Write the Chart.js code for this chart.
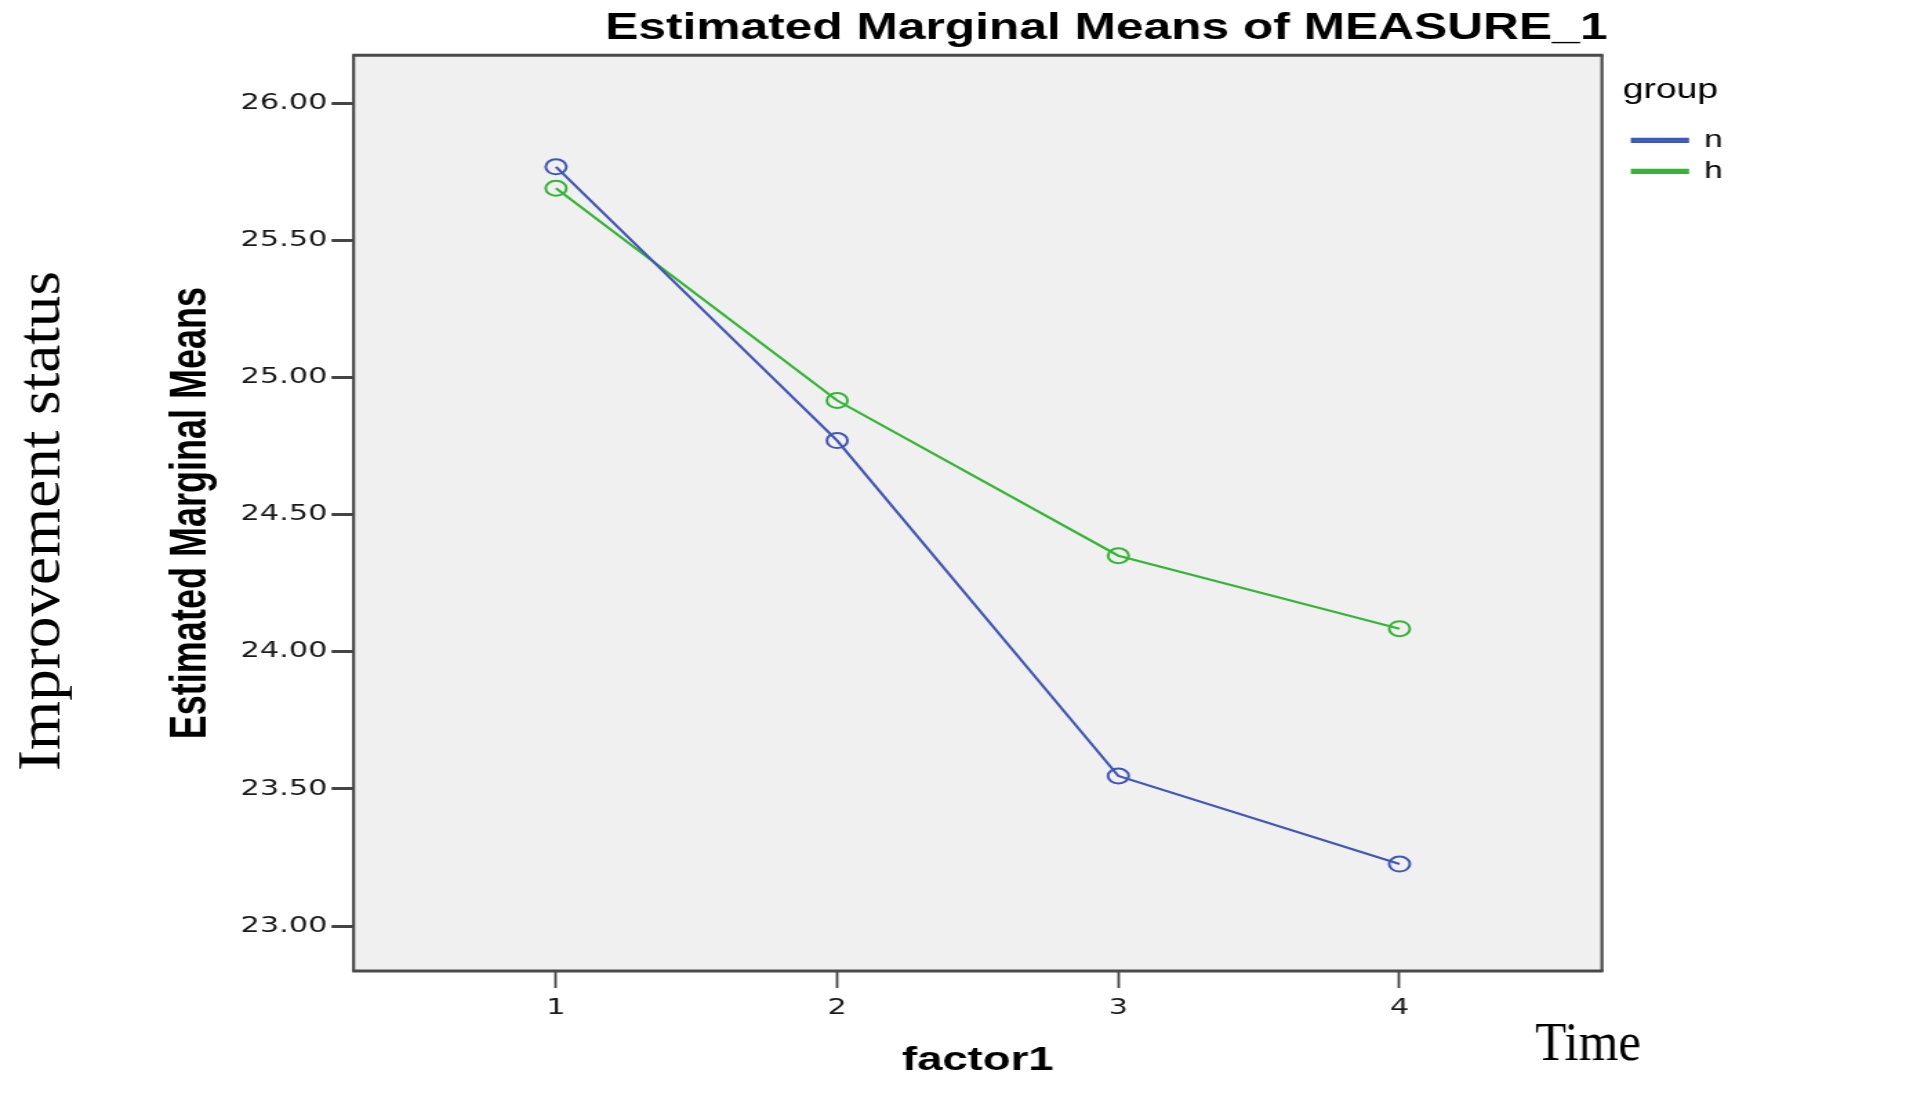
<!DOCTYPE html>
<html>
<head>
<meta charset="utf-8">
<title>Estimated Marginal Means of MEASURE_1</title>
<script src="https://cdn.jsdelivr.net/npm/chart.js@4.4.1/dist/chart.umd.min.js"></script>
<style>
  html, body { margin: 0; padding: 0; background: #fff; overflow: hidden; }
  /* the original SPSS picture is stretched sideways, so the canvas is too */
  #wrap { width: 1386px; height: 1113px; transform: scaleX(1.3802); transform-origin: 0 0; }
</style>
</head>
<body>
<div id="wrap"><canvas id="emmChart" width="1386" height="1113"></canvas></div>
<script>
// values
const factorLevels = [1, 2, 3, 4];
const groupN = [25.768, 24.770, 23.547, 23.226];
const groupH = [25.690, 24.916, 24.350, 24.084];
const yTicks = [23.0, 23.5, 24.0, 24.5, 25.0, 25.5, 26.0];
const xTicks = [1, 2, 3, 4];
const groupNames = ['n', 'h'];

const STRETCH = 1913 / 1386;

function toPoints(vals) {
    return factorLevels.map((x, i) => ({ x: x, y: vals[i] }));
}

// grey plot area + dark frame round it
const plotFrame = {
    id: 'plotFrame',
    beforeDatasetsDraw(chart) {
        const ctx = chart.ctx;
        const a = chart.chartArea;
        ctx.save();
        ctx.fillStyle = '#f0f0f0';
        ctx.fillRect(a.left, a.top, a.right - a.left, a.bottom - a.top);
        ctx.restore();
    },
    afterDraw(chart) {
        const ctx = chart.ctx;
        const a = chart.chartArea;
        ctx.save();
        ctx.strokeStyle = '#4a4a4a';
        ctx.lineWidth = 3;
        ctx.beginPath();
        ctx.moveTo(a.left - 1, a.top); ctx.lineTo(a.right + 1, a.top);
        ctx.moveTo(a.left - 1, a.bottom); ctx.lineTo(a.right + 1, a.bottom);
        ctx.stroke();
        ctx.lineWidth = 2.2;
        ctx.beginPath();
        ctx.moveTo(a.left, a.top); ctx.lineTo(a.left, a.bottom);
        ctx.moveTo(a.right, a.top); ctx.lineTo(a.right, a.bottom);
        ctx.stroke();
        ctx.restore();
    }
};

// the two captions added outside the SPSS plot (drawn in unstretched page units)
function fitText(ctx, text, x, y, font, width, angle) {
    ctx.save();
    ctx.scale(1 / STRETCH, 1);
    ctx.translate(x, y);
    ctx.rotate(angle);
    ctx.font = font;
    const w = ctx.measureText(text).width;
    ctx.scale(width / w, 1);
    ctx.textAlign = 'center';
    ctx.textBaseline = 'alphabetic';
    ctx.fillStyle = '#000';
    ctx.fillText(text, 0, 0);
    ctx.restore();
}

const captions = {
    id: 'captions',
    afterDraw(chart) {
        const ctx = chart.ctx;
        fitText(ctx, 'Improvement status', 60, 521, '60px "Liberation Serif"', 500, -Math.PI / 2);
        fitText(ctx, 'Time', 1588, 1060, '55px "Liberation Serif"', 106, 0);
    }
};

// nudge legend and title to where SPSS put them
const boxShift = {
    id: 'boxShift',
    afterLayout(chart) {
        if (chart.legend) {
            chart.legend.left += 15;
            chart.legend.right += 15;
        }
        if (chart.titleBlock) {
            chart.titleBlock.left += 4;
            chart.titleBlock.right += 4;
        }
    }
};

const ctx = document.getElementById('emmChart').getContext('2d');
const chart = new Chart(ctx, {
    type: 'line',
    data: {
        datasets: [{
            label: groupNames[0],
            data: toPoints(groupN),
            borderColor: '#4057b5',
            backgroundColor: '#4a64c0',
            borderWidth: 2.2,
            pointRadius: 7.5,
            pointBorderWidth: 2,
            pointBackgroundColor: 'rgba(0,0,0,0)',
            pointBorderColor: '#4057b5',
            tension: 0
        }, {
            label: groupNames[1],
            data: toPoints(groupH),
            borderColor: '#35b535',
            backgroundColor: '#35b535',
            borderWidth: 2.2,
            pointRadius: 7.5,
            pointBorderWidth: 2,
            pointBackgroundColor: 'rgba(0,0,0,0)',
            pointBorderColor: '#35b535',
            tension: 0
        }]
    },
    options: {
        responsive: false,
        animation: false,
        devicePixelRatio: 1,
        layout: {
            padding: { left: 114, right: 143, top: 0, bottom: 0 }
        },
        scales: {
            x: {
                type: 'linear',
                min: 0.28,
                max: 4.72,
                afterBuildTicks: s => { s.ticks = xTicks.map(v => ({ value: v })); },
                ticks: {
                    color: '#1a1a1a',
                    font: { family: 'DejaVu Sans', size: 22 },
                    padding: 7,
                    callback: v => String(v)
                },
                grid: {
                    drawOnChartArea: false,
                    drawTicks: true,
                    tickLength: 17,
                    tickWidth: 1.8,
                    tickColor: '#444'
                },
                border: { display: false },
                title: {
                    display: true,
                    text: 'factor1',
                    color: '#000',
                    font: { family: 'Liberation Sans', weight: 'bold', size: 33 },
                    padding: { top: 13, bottom: 32 }
                }
            },
            y: {
                type: 'linear',
                min: 22.836,
                max: 26.175,
                afterBuildTicks: s => { s.ticks = yTicks.map(v => ({ value: v })); },
                ticks: {
                    color: '#1a1a1a',
                    font: { family: 'DejaVu Sans', size: 22 },
                    padding: 3,
                    callback: v => v.toFixed(2)
                },
                grid: {
                    drawOnChartArea: false,
                    drawTicks: true,
                    tickLength: 16,
                    tickWidth: 3,
                    tickColor: '#444'
                },
                border: { display: false },
                title: {
                    display: true,
                    text: 'Estimated Marginal Means',
                    color: '#000',
                    font: { family: 'Liberation Sans', weight: 'bold', size: 36 },
                    padding: { top: 3, bottom: 11 }
                }
            }
        },
        plugins: {
            title: {
                display: true,
                text: 'Estimated Marginal Means of MEASURE_1',
                align: 'end',
                fullSize: false,
                color: '#000',
                font: { family: 'Liberation Sans', weight: 'bold', size: 36, lineHeight: 1.2 },
                padding: { top: 7, bottom: 5 }
            },
            legend: {
                position: 'right',
                align: 'start',
                title: {
                    display: true,
                    text: 'group',
                    color: '#000',
                    position: 'start',
                    font: { family: 'Liberation Sans', size: 27 },
                    padding: { top: 77, bottom: 12 }
                },
                labels: {
                    boxWidth: 40,
                    boxHeight: 3,
                    color: '#000',
                    font: { family: 'Liberation Sans', size: 24 },
                    padding: 7
                }
            },
            tooltip: { enabled: false }
        }
    },
    plugins: [plotFrame, captions, boxShift]
});
</script>
</body>
</html>
